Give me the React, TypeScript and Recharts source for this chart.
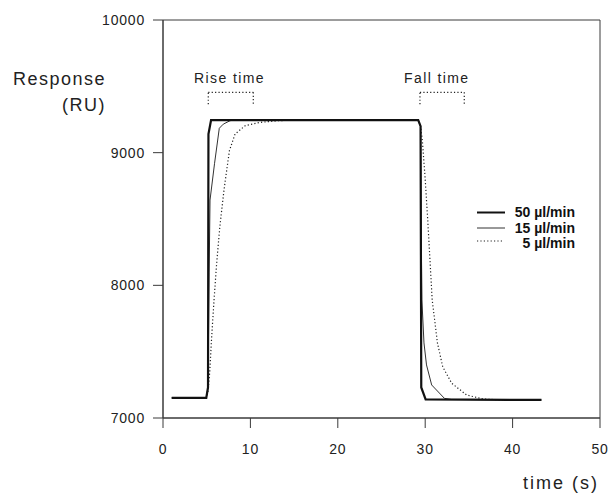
import React from "react";
import { LineChart, Line, XAxis, YAxis, ReferenceArea, ReferenceLine } from "recharts";

// time (s) / response (RU) for each flow rate
const flow50T = [1.0, 4.95, 5.15, 5.2, 5.5, 29.2, 29.47, 29.55, 30.05, 43.3];
const flow50V = [7152, 7152, 7230, 9140, 9246, 9246, 9200, 7230, 7140, 7136];

const flow15T = [1.0, 4.95, 5.15, 5.28, 5.38, 5.9, 6.44, 6.9, 7.67, 8.2, 29.2, 29.47, 29.53, 29.62, 29.86, 30.15, 30.74, 32.2, 33.0, 43.3];
const flow15V = [7152, 7152, 7230, 8100, 8643, 8920, 9184, 9215, 9241, 9246, 9246, 9200, 8500, 7890, 7566, 7400, 7249, 7148, 7140, 7136];

const flow5T = [1.0, 4.95, 5.15, 5.35, 5.57, 5.85, 6.14, 6.5, 6.98, 7.6, 8.24, 9.4, 11.1, 13.0, 15.0, 29.2, 29.47, 29.67, 30.0, 30.29, 30.8, 31.4, 32.0, 33.03, 34.75, 36.65, 38.5, 43.3];
const flow5V = [7152, 7152, 7200, 7350, 7613, 7900, 8166, 8440, 8719, 9015, 9140, 9203, 9228, 9240, 9246, 9246, 9200, 9095, 8800, 8492, 7890, 7566, 7387, 7262, 7173, 7143, 7137, 7136];

const xTicks = [0, 10, 20, 30, 40, 50];
const yTicks = [7000, 8000, 9000, 10000];

const legendLabels = ["50 \u00b5l/min", "15 \u00b5l/min", "5 \u00b5l/min"];

const riseBracket = { x1: 5.18, x2: 10.33, yTop: 9455, yBottom: 9365 };
const fallBracket = { x1: 29.4, x2: 34.47, yTop: 9455, yBottom: 9365 };

const toPts = (ts: number[], vs: number[]) => ts.map((t, i) => ({ t, v: vs[i] }));
const data50 = toPts(flow50T, flow50V);
const data15 = toPts(flow15T, flow15V);
const data5 = toPts(flow5T, flow5V);

const FONT = "'Liberation Sans', Arial, Helvetica, sans-serif";
const NARROW = "'Liberation Sans Narrow', 'Arial Narrow', 'Liberation Sans', Arial, sans-serif";
const AX = "#3a3a3a";

const tickStyle = { fontSize: 14, fill: "#222", fontFamily: FONT, letterSpacing: 0.8 };
const dotted = "1.2 2.2";

function Bracket({ b }: { b: typeof riseBracket }) {
  return (
    <>
      <ReferenceLine segment={[{ x: b.x1, y: b.yBottom }, { x: b.x1, y: b.yTop }]} stroke="#222" strokeDasharray={dotted} strokeWidth={1.2} />
      <ReferenceLine segment={[{ x: b.x1, y: b.yTop }, { x: b.x2, y: b.yTop }]} stroke="#222" strokeDasharray={dotted} strokeWidth={1.2} />
      <ReferenceLine segment={[{ x: b.x2, y: b.yTop }, { x: b.x2, y: b.yBottom }]} stroke="#222" strokeDasharray={dotted} strokeWidth={1.2} />
    </>
  );
}

export default function App() {
  return (
    <div style={{ position: "absolute", left: 0, top: 0, width: 608, height: 494, background: "#fff" }}>
      <LineChart width={608} height={494} margin={{ top: 20, right: 8, bottom: 26, left: 103 }}>
        <XAxis
          type="number"
          dataKey="t"
          domain={[0, 50]}
          ticks={xTicks}
          allowDataOverflow
          tickSize={10}
          tickMargin={16}
          height={50}
          stroke={AX}
          tick={tickStyle}
          tickLine={{ stroke: AX }}
          axisLine={{ stroke: AX }}
        />
        <YAxis
          type="number"
          dataKey="v"
          domain={[7000, 10000]}
          ticks={yTicks}
          allowDataOverflow
          tickSize={10}
          tickMargin={8}
          width={60}
          stroke={AX}
          tick={tickStyle}
          tickLine={{ stroke: AX }}
          axisLine={{ stroke: AX }}
        />
        <ReferenceArea x1={0} x2={50} y1={7000} y2={10000} fill="none" fillOpacity={0} stroke={AX} strokeWidth={1} />
        <Bracket b={riseBracket} />
        <Bracket b={fallBracket} />
        <Line data={data5} dataKey="v" type="linear" dot={false} stroke="#222" strokeWidth={1.2} strokeDasharray={dotted} isAnimationActive={false} />
        <Line data={data15} dataKey="v" type="linear" dot={false} stroke="#333" strokeWidth={1} isAnimationActive={false} />
        <Line data={data50} dataKey="v" type="linear" dot={false} stroke="#111" strokeWidth={2.2} isAnimationActive={false} />

        <text x={106} y={85} textAnchor="end" fontSize={18} fontFamily={FONT} fill="#222" letterSpacing={1.5}>Response</text>
        <text x={106} y={111} textAnchor="end" fontSize={18} fontFamily={FONT} fill="#222" letterSpacing={1.5}>(RU)</text>
        <text x={599} y={489} textAnchor="end" fontSize={18} fontFamily={FONT} fill="#222" letterSpacing={2}>time (s)</text>
        <text x={194} y={83} fontSize={14} fontFamily={FONT} fill="#222" letterSpacing={1.4}>Rise time</text>
        <text x={404} y={83} fontSize={14} fontFamily={FONT} fill="#222" letterSpacing={1.4}>Fall time</text>

        <line x1={477} x2={505} y1={212.5} y2={212.5} stroke="#111" strokeWidth={2} />
        <line x1={477} x2={505} y1={228} y2={228} stroke="#333" strokeWidth={1} />
        <line x1={477} x2={503} y1={241} y2={241} stroke="#222" strokeWidth={1.2} strokeDasharray={dotted} />
        {legendLabels.map((l, i) => (
          <text key={l} x={575} y={216.7 + i * 15.8} textAnchor="end" fontSize={14} fontWeight="bold" fontFamily={NARROW} fill="#111">{l}</text>
        ))}
      </LineChart>
    </div>
  );
}
